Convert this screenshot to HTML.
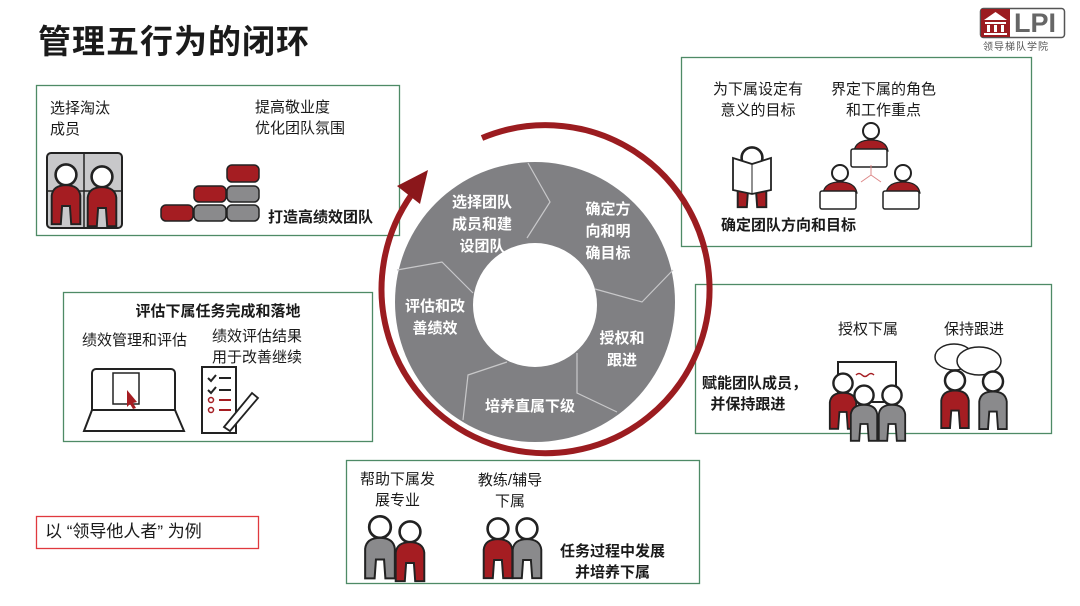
<!DOCTYPE html>
<html><head><meta charset="utf-8">
<style>
*{margin:0;padding:0;box-sizing:border-box}
body{width:1080px;height:606px;background:#fff;position:relative;overflow:hidden;font-family:"Liberation Sans","Noto Sans CJK SC",sans-serif;color:#1a1a1a}
.t{position:absolute;font-size:15px;line-height:21px;white-space:nowrap}
.c{text-align:center}
.b{font-weight:bold}
.w{color:#fff;font-weight:bold;font-size:15px;line-height:22px;text-align:center}
svg{position:absolute;left:0;top:0}
</style></head><body>
<svg width="1080" height="606" viewBox="0 0 1080 606">
<defs>
<g id="pr"><circle cx="0" cy="-14" r="8" fill="#fff" stroke="#222" stroke-width="2"/><path d="M-11,24 L-11,2 Q-10,-6 0,-6 Q10,-6 11,2 L11,24 L4,24 L3,10 L-3,10 L-4,24Z" fill="#a51d22" stroke="#222" stroke-width="1.5"/></g>
<g id="pg"><circle cx="0" cy="-14" r="8" fill="#fff" stroke="#222" stroke-width="2"/><path d="M-11,24 L-11,2 Q-10,-6 0,-6 Q10,-6 11,2 L11,24 L4,24 L3,10 L-3,10 L-4,24Z" fill="#8a8a8c" stroke="#222" stroke-width="1.5"/></g>
<g id="desk"><circle cx="0" cy="-12" r="8" fill="#fff" stroke="#222" stroke-width="2"/><path d="M-17,8 Q-15,-3 0,-3 Q15,-3 17,8Z" fill="#a51d22" stroke="#222" stroke-width="1.2"/><rect x="-20" y="6" width="36" height="18" rx="2" fill="#fff" stroke="#222" stroke-width="1.5"/></g>
</defs>
<g fill="none" stroke="#4e8a66" stroke-width="1.3">
<rect x="36.5" y="85.5" width="363" height="150"/>
<rect x="681.5" y="57.5" width="350" height="189"/>
<rect x="63.5" y="292.5" width="309" height="149"/>
<rect x="695.5" y="284.5" width="356" height="149"/>
<rect x="346.5" y="460.5" width="353" height="123"/>
</g>
<rect x="36.5" y="516.5" width="222" height="32" fill="none" stroke="#e0393e" stroke-width="1.3"/>
<rect x="980.5" y="8.5" width="84" height="29" rx="3" fill="#fff" stroke="#555" stroke-width="1.5"/>
<rect x="981" y="9" width="29" height="28" fill="#9b1c20"/>
<path d="M984,20 L995.5,12 L1007,20Z M985,22 h21 v2 h-21z M987,25 h3 v7 h-3z M994,25 h3 v7 h-3z M1001,25 h3 v7 h-3z M984,33 h23 v2 h-23z" fill="#fff"/>
<circle cx="535" cy="302" r="140" fill="#808083"/>
<circle cx="535" cy="305" r="62" fill="#fff"/>
<g fill="none" stroke="#c8c8ca" stroke-width="1.2">
<path d="M528,163 L550,202 L527,238"/>
<path d="M673,270 L642,302 L595,289"/>
<path d="M617,412 L577,393 L577,353"/>
<path d="M463,420 L468,375 L507,362"/>
<path d="M397,270 L442,262 L473,293"/>
</g>
<path d="M482,138 A164,164 0 1 1 412,194" fill="none" stroke="#9b1c20" stroke-width="6"/>
<path d="M397,186 L428,170 L420,204Z" fill="#8b171b"/>
<rect x="47" y="153" width="75" height="75" rx="4" fill="#c8c8ca" stroke="#222" stroke-width="2"/>
<line x1="84" y1="153" x2="84" y2="228" stroke="#222" stroke-width="1.5"/><line x1="47" y1="191" x2="122" y2="191" stroke="#222" stroke-width="1.5"/>
<use href="#pr" transform="translate(66,193) scale(1.3)"/><use href="#pr" transform="translate(102,195) scale(1.3)"/>
<g stroke="#222" stroke-width="1.5">
<rect x="161" y="205" width="32" height="16" rx="5" fill="#a51d22"/>
<rect x="194" y="205" width="32" height="16" rx="5" fill="#8a8a8c"/>
<rect x="227" y="205" width="32" height="16" rx="5" fill="#8a8a8c"/>
<rect x="194" y="186" width="32" height="16" rx="5" fill="#a51d22"/>
<rect x="227" y="186" width="32" height="16" rx="5" fill="#8a8a8c"/>
<rect x="227" y="165" width="32" height="17" rx="5" fill="#a51d22"/>
</g>
<use href="#pr" transform="translate(752,176) scale(1.3)"/>
<path d="M733,158 L752,164 L771,158 L771,190 L752,194 L733,190Z" fill="#fff" stroke="#222" stroke-width="1.8"/>
<line x1="752" y1="164" x2="752" y2="194" stroke="#222"/>
<use href="#desk" x="871" y="143"/><use href="#desk" x="840" y="185"/><use href="#desk" x="903" y="185"/>
<path d="M871,165 v10 M871,175 l-10,7 M871,175 l10,7" stroke="#d88" stroke-width="1"/>
<rect x="92" y="369" width="83" height="54" rx="4" fill="#fff" stroke="#222" stroke-width="2"/>
<path d="M84,431 L92,410 L175,410 L184,431Z" fill="#fff" stroke="#222" stroke-width="2"/>
<rect x="113" y="373" width="26" height="31" fill="#fff" stroke="#222" stroke-width="1.5"/>
<path d="M127,390 l10,12 l-4,1 l3,5 l-3,1 l-3,-5 l-3,3z" fill="#a51d22"/>
<rect x="202" y="367" width="34" height="66" fill="#fff" stroke="#222" stroke-width="2"/>
<path d="M208,378 l3,3 l5,-6 M208,390 l3,3 l5,-6" stroke="#222" stroke-width="2" fill="none"/>
<path d="M219,378h12M219,390h12" stroke="#222" stroke-width="2"/>
<path d="M219,400h12M219,410h12" stroke="#a51d22" stroke-width="2"/>
<circle cx="211" cy="400" r="2.5" fill="none" stroke="#a51d22" stroke-width="1.5"/><circle cx="211" cy="410" r="2.5" fill="none" stroke="#a51d22" stroke-width="1.5"/>
<path d="M224,427 L252,393 L258,398 L230,431Z" fill="#fff" stroke="#222" stroke-width="1.8"/>
<rect x="838" y="362" width="58" height="40" fill="#fff" stroke="#222" stroke-width="2"/>
<path d="M856,375 q3,-3 6,0 q3,3 6,0 q3,-3 6,0" stroke="#a51d22" fill="none" stroke-width="1.5"/>
<use href="#pr" transform="translate(843,400) scale(1.2)"/>
<use href="#pg" transform="translate(864,412) scale(1.2)"/><use href="#pg" transform="translate(892,412) scale(1.2)"/>
<ellipse cx="954" cy="357" rx="19" ry="13" fill="#fff" stroke="#222" stroke-width="1.5"/>
<ellipse cx="979" cy="361" rx="22" ry="14" fill="#fff" stroke="#222" stroke-width="1.5"/>
<use href="#pr" transform="translate(955,398) scale(1.25)"/><use href="#pg" transform="translate(993,399) scale(1.25)"/>
<use href="#pg" transform="translate(380,546) scale(1.35)"/><use href="#pr" transform="translate(410,550) scale(1.3)"/>
<use href="#pr" transform="translate(498,547) scale(1.3)"/><use href="#pg" transform="translate(527,547) scale(1.3)"/>
</svg>

<div class="t b" style="left:38px;top:20px;font-size:33px;line-height:44px;letter-spacing:1px">管理五行为的闭环</div>
<div class="t b" style="left:1014px;top:6px;font-size:27px;line-height:34px;color:#666">LPI</div>
<div class="t" style="left:983px;top:41px;font-size:10px;line-height:14px;color:#555;letter-spacing:1px">领导梯队学院</div>

<div class="t" style="left:50px;top:98px">选择淘汰<br>成员</div>
<div class="t" style="left:255px;top:97px">提高敬业度<br>优化团队氛围</div>
<div class="t b" style="left:268px;top:207px">打造高绩效团队</div>

<div class="t c" style="left:708px;top:79px;width:100px">为下属设定有<br>意义的目标</div>
<div class="t c" style="left:826px;top:79px;width:115px">界定下属的角色<br>和工作重点</div>
<div class="t b" style="left:721px;top:215px">确定团队方向和目标</div>

<div class="t b c" style="left:63px;top:301px;width:310px">评估下属任务完成和落地</div>
<div class="t" style="left:82px;top:330px">绩效管理和评估</div>
<div class="t" style="left:212px;top:326px">绩效评估结果<br>用于改善继续</div>

<div class="t" style="left:838px;top:319px">授权下属</div>
<div class="t" style="left:944px;top:319px">保持跟进</div>
<div class="t b" style="left:702px;top:373px">赋能团队成员，<br>&nbsp;&nbsp;并保持跟进</div>

<div class="t c" style="left:355px;top:469px;width:85px">帮助下属发<br>展专业</div>
<div class="t c" style="left:470px;top:470px;width:80px">教练/辅导<br>下属</div>
<div class="t b c" style="left:560px;top:541px;width:105px">任务过程中发展<br>并培养下属</div>

<div class="t" style="left:45px;top:521px;font-size:17px;line-height:22px">以 “领导他人者” 为例</div>

<div class="t w" style="left:432px;top:192px;width:100px">选择团队<br>成员和建<br>设团队</div>
<div class="t w" style="left:563px;top:199px;width:90px">确定方<br>向和明<br>确目标</div>
<div class="t w" style="left:390px;top:296px;width:90px">评估和改<br>善绩效</div>
<div class="t w" style="left:577px;top:328px;width:90px">授权和<br>跟进</div>
<div class="t w" style="left:470px;top:396px;width:120px">培养直属下级</div>
</body></html>
